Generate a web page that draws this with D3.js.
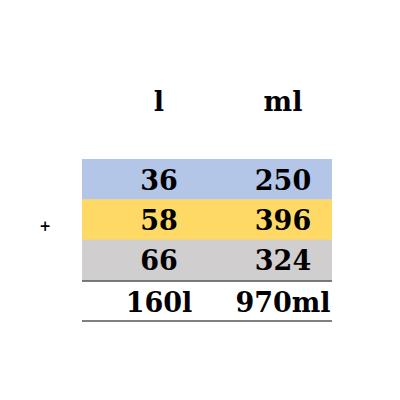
<!DOCTYPE html><html><head><script src="https://cdn.jsdelivr.net/npm/d3@7"></script>
<style>body{margin:0;background:#fff}</style></head><body><svg id="c" width="400" height="400"></svg>
<script>
const headers=["l","ml"];
const litres=[36,58,66];
const millilitres=[250,396,324];
const rowColors=["#b4c6e7","#ffd966","#d0cece"];
const totals=["160l","970ml"];
const svg=d3.select("#c");
const x=d3.scaleOrdinal().domain([0,1]).range([159,283]);
const y=d3.scaleBand().domain([0,1,2]).range([159,280]).padding(0);
const font="'DejaVu Serif',serif";
svg.selectAll("rect.r").data(litres).enter().append("rect")
 .attr("x",82).attr("width",250).attr("y",(d,i)=>y(i)).attr("height",y.bandwidth()+0.5)
 .attr("fill",(d,i)=>rowColors[i]);
const txt=(s,cx,cy,size)=>svg.append("text").attr("x",cx).attr("y",cy).attr("text-anchor","middle")
 .attr("dominant-baseline","central").attr("font-family",font).attr("font-weight","900").attr("font-size",size).text(s);
headers.forEach((h,j)=>txt(h,x(j),101,27));
litres.forEach((v,i)=>{txt(v,x(0),y(i)+y.bandwidth()/2+1,27);txt(millilitres[i],x(1),y(i)+y.bandwidth()/2+1,27);});
totals.forEach((t,j)=>txt(t,x(j),302,27));
txt("+",45,226,14);
[281,321].forEach(ly=>svg.append("line").attr("x1",82).attr("x2",332).attr("y1",ly).attr("y2",ly).attr("stroke","#000").attr("stroke-width",1));
</script></body></html>
